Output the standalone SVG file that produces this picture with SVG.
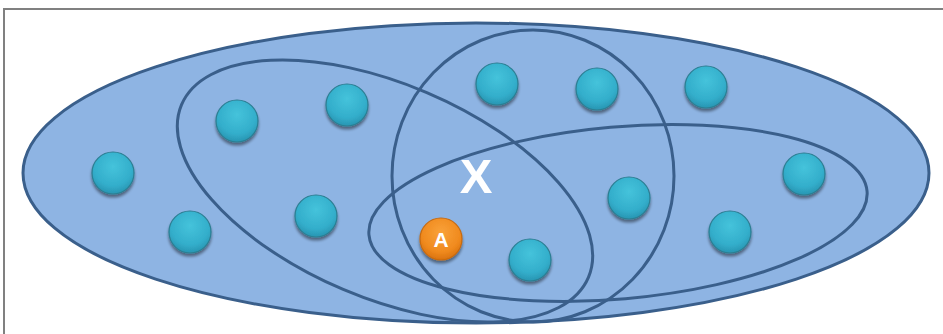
<svg xmlns="http://www.w3.org/2000/svg" width="943" height="334" viewBox="0 0 943 334">
<style>
.set{fill:none;stroke:#3A5F8B;stroke-width:3}
.ball{fill:url(#teal);stroke:#2B7E92;stroke-width:1.2;filter:url(#sh)}
.lbl{font-family:"Liberation Sans",Arial,sans-serif;font-weight:bold;fill:#fff;text-anchor:middle}
</style>
<defs>
<radialGradient id="teal" cx="0.5" cy="0.35" r="0.65">
<stop offset="0" stop-color="#45C3DB"/>
<stop offset="0.7" stop-color="#33AECB"/>
<stop offset="1" stop-color="#2895B2"/>
</radialGradient>
<radialGradient id="orng" cx="0.5" cy="0.35" r="0.65">
<stop offset="0" stop-color="#F9A23A"/>
<stop offset="0.7" stop-color="#F08A1E"/>
<stop offset="1" stop-color="#D9720E"/>
</radialGradient>
<filter id="sh" x="-30%" y="-30%" width="160%" height="170%">
<feGaussianBlur in="SourceAlpha" stdDeviation="1.5"/>
<feOffset dx="0" dy="2.5" result="b"/>
<feComponentTransfer><feFuncA type="linear" slope="0.45"/></feComponentTransfer>
<feMerge><feMergeNode/><feMergeNode in="SourceGraphic"/></feMerge>
</filter>
</defs>
<rect width="943" height="334" fill="#fff"/>
<path d="M4 334 V9 H943" fill="none" stroke="#808080" stroke-width="2"/>
<g id="universe">
<ellipse cx="476" cy="173" rx="453" ry="150" fill="#8EB4E3" stroke="#3A5F8B" stroke-width="3"/>
</g>
<g id="sets">
<ellipse id="setLeft" class="set" cx="385" cy="191" rx="221" ry="107" transform="rotate(23 385 191)"/>
<ellipse id="setMid" class="set" cx="533" cy="176" rx="141" ry="146"/>
<ellipse id="setRight" class="set" cx="618" cy="213" rx="250" ry="86" transform="rotate(-5 618 213)"/>
</g>
<g id="elements">
<g id="b1"><circle class="ball" cx="113" cy="173" r="21"/></g>
<g id="b2"><circle class="ball" cx="190" cy="232" r="21"/></g>
<g id="b3"><circle class="ball" cx="237" cy="121" r="21"/></g>
<g id="b4"><circle class="ball" cx="347" cy="105" r="21"/></g>
<g id="b5"><circle class="ball" cx="316" cy="216" r="21"/></g>
<g id="b6"><circle class="ball" cx="497" cy="84" r="21"/></g>
<g id="b7"><circle class="ball" cx="597" cy="89" r="21"/></g>
<g id="b8"><circle class="ball" cx="706" cy="87" r="21"/></g>
<g id="b9"><circle class="ball" cx="629" cy="198" r="21"/></g>
<g id="b10"><circle class="ball" cx="530" cy="260" r="21"/></g>
<g id="b11"><circle class="ball" cx="730" cy="232" r="21"/></g>
<g id="b12"><circle class="ball" cx="804" cy="174" r="21"/></g>
<g id="a"><circle cx="441" cy="239" r="21" fill="url(#orng)" stroke="#C86A10" stroke-width="1.2" filter="url(#sh)"/>
<text class="lbl" x="441" y="247" font-size="21">A</text></g>
</g>
<g id="x"><text class="lbl" x="476" y="193" font-size="49">X</text></g>
</svg>
